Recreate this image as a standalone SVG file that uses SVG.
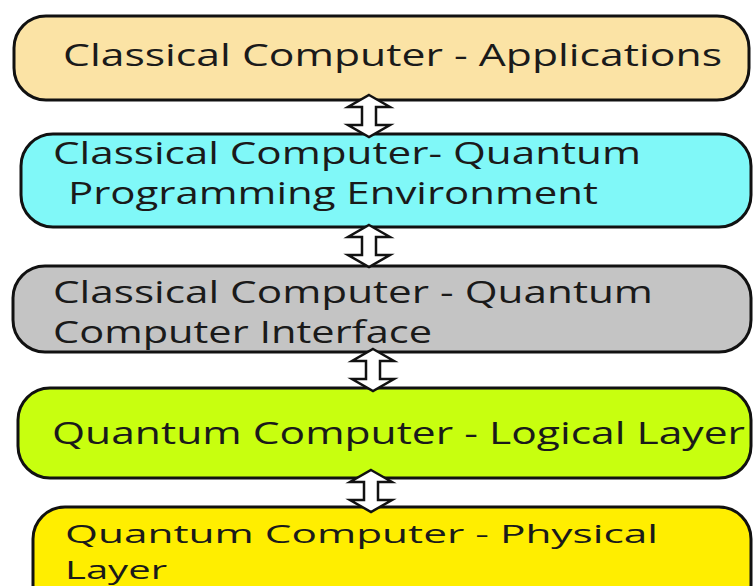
<svg xmlns="http://www.w3.org/2000/svg" xmlns:xlink="http://www.w3.org/1999/xlink" width="753" height="586" viewBox="0 0 753 586">
  <defs>
    <style>
      .box { stroke: #111; stroke-width: 3; }
      .lbl { font-family: "Open Sans", "Noto Sans", "DejaVu Sans", sans-serif; font-size: 31px; fill: #1a1a1a; }
      .sm { font-size: 26px; }
      .arr { fill: #fff; stroke: #111; stroke-width: 2.5; stroke-linejoin: miter; }
    </style>
    <path id="dbl" class="arr" d="M0,0 L21,12 L7,12 L7,30 L21,30 L0,42 L-21,30 L-7,30 L-7,12 L-21,12 Z"/>
  </defs>
  <rect width="753" height="586" fill="#fff"/>

  <g id="n1">
    <rect class="box" x="14" y="16" width="735" height="84" rx="32" fill="#FBE3A5"/>
    <text class="lbl" x="63" y="66" textLength="659" lengthAdjust="spacingAndGlyphs">Classical Computer - Applications</text>
  </g>
  <g id="n2">
    <rect class="box" x="21" y="134" width="730" height="93" rx="32" fill="#80F8F8"/>
    <text class="lbl" x="53" y="164" textLength="588" lengthAdjust="spacingAndGlyphs">Classical Computer- Quantum</text>
    <text class="lbl" x="68" y="204" textLength="530" lengthAdjust="spacingAndGlyphs">Programming Environment</text>
  </g>
  <g id="n3">
    <rect class="box" x="13" y="266" width="738" height="86" rx="32" fill="#C4C4C4"/>
    <text class="lbl" x="53" y="303" textLength="600" lengthAdjust="spacingAndGlyphs">Classical Computer - Quantum</text>
    <text class="lbl" x="53" y="343" textLength="379" lengthAdjust="spacingAndGlyphs">Computer Interface</text>
  </g>
  <g id="n4">
    <rect class="box" x="18" y="388" width="733" height="90" rx="32" fill="#C8FF0F"/>
    <text class="lbl" x="52" y="444" textLength="693" lengthAdjust="spacingAndGlyphs">Quantum Computer - Logical Layer</text>
  </g>
  <g id="n5">
    <rect class="box" x="33" y="507" width="718" height="110" rx="32" fill="#FFEE00"/>
    <text class="lbl sm" x="65" y="543" textLength="593" lengthAdjust="spacingAndGlyphs">Quantum Computer - Physical</text>
    <text class="lbl sm" x="65" y="579" textLength="102" lengthAdjust="spacingAndGlyphs">Layer</text>
  </g>

  <g id="connectors">
    <use xlink:href="#dbl" href="#dbl" transform="translate(369,95)"/>
    <use xlink:href="#dbl" href="#dbl" transform="translate(369,225)"/>
    <use xlink:href="#dbl" href="#dbl" transform="translate(373,349)"/>
    <use xlink:href="#dbl" href="#dbl" transform="translate(371,470)"/>
  </g>
</svg>
